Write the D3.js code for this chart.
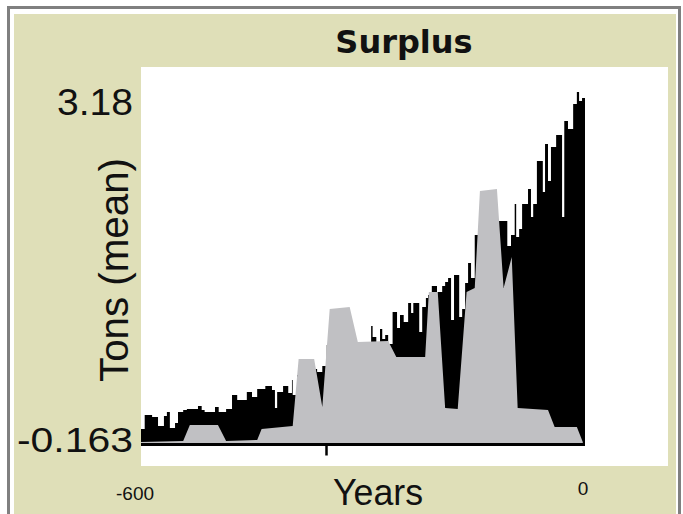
<!DOCTYPE html>
<html>
<head>
<meta charset="utf-8">
<script src="https://cdn.jsdelivr.net/npm/d3@7"></script>
<style>
  html, body { margin: 0; padding: 0; background: #ffffff; }
  svg { display: block; }
</style>
</head>
<body>
<svg id="chart" width="683" height="514"></svg>
<script>
// ---- data ----
const title = "Surplus";
const xLabel = "Years";
const yLabel = "Tons (mean)";
const xDomain = [-600, 0];
const yDomain = [-0.163, 3.18];
const xTickLabels = ["-600", "0"];
const yTickLabels = ["3.18", "-0.163"];
const xTickMarks = [-350];

// black series: step bars (start year, value)
const blackYears = [-600,-595,-585,-577,-569,-565,-561,-554,-550,-543,-538,-523,-518,-514,-500,-495,-485,-477,-470,-457,-450,-443,-432,-423,-419,-416,-408,-401,-396,-395,-389,-365,-362,-355,-349,-289,-287,-282,-277,-274,-270,-266,-260,-254,-250,-245,-239,-235,-232,-224,-220,-215,-212,-207,-200,-193,-189,-185,-181,-177,-170,-166,-162,-158,-154,-149,-119,-112,-105,-100,-95,-93,-89,-85,-77,-73,-70,-65,-57,-54,-50,-46,-39,-31,-28,-23,-16,-11,-8,-4];
const blackValues = [-0.03,0.104,0.085,0.0,0.094,0.132,-0.02,0.027,0.132,0.151,0.161,0.189,0.151,0.132,0.18,0.132,0.161,0.294,0.247,0.323,0.275,0.351,0.38,0.342,0.17,0.323,0.38,0.313,0.437,0.294,0.485,0.542,0.513,0.57,0.77,0.951,0.847,0.78,0.923,0.827,0.866,0.78,1.085,0.932,1.056,0.989,1.17,1.075,1.17,0.894,1.132,1.218,1.247,1.332,1.275,1.332,1.37,1.408,1.008,1.437,1.037,1.113,1.361,1.551,1.408,1.818,1.951,1.951,1.713,1.818,2.113,1.799,1.875,2.113,2.256,1.989,2.113,2.523,2.227,2.685,2.332,2.656,2.77,1.989,2.904,2.827,3.066,3.18,3.094,3.123];

// gray series: line-connected area (year, value)
const grayYears = [-600,-543,-534,-496,-485,-443,-437,-395,-387,-366,-355,-345,-318,-307,-266,-255,-216,-211,-199,-189,-172,-160,-149,-142,-119,-110,-99,-91,-50,-41,-11,-3];
const grayValues = [-0.153,-0.144,0.008,0.008,-0.144,-0.134,-0.03,-0.001,0.637,0.637,0.18,1.113,1.132,0.799,0.808,0.656,0.656,1.275,1.275,0.17,0.161,1.275,1.313,2.237,2.256,1.313,1.608,0.17,0.151,-0.011,-0.011,-0.153];

// ---- drawing ----
const svg = d3.select("#chart");
const W = 683, H = 514;

// outer frame
svg.append("rect").attr("x", 0).attr("y", 0).attr("width", W).attr("height", H).attr("fill", "#ffffff");
svg.append("rect").attr("x", 8.5).attr("y", 7.5).attr("width", 671).attr("height", 520)
  .attr("fill", "none").attr("stroke", "#808080").attr("stroke-width", 3);
svg.append("rect").attr("x", 14).attr("y", 14).attr("width", 662).attr("height", 500).attr("fill", "#dfdfb8");

// plot area
const plot = {left: 141, top: 67, right: 668, bottom: 466};
svg.append("rect").attr("x", plot.left).attr("y", plot.top)
  .attr("width", plot.right - plot.left).attr("height", plot.bottom - plot.top).attr("fill", "#ffffff");

const x = d3.scaleLinear().domain(xDomain).range([141, 585]);
const y = d3.scaleLinear().domain(yDomain).range([443, 92]);

// black step area
const blackData = blackYears.map((yr, i) => ({x: yr, v: blackValues[i]}));
blackData.push({x: xDomain[1], v: blackValues[blackValues.length - 1]});
const blackArea = d3.area().curve(d3.curveStepAfter)
  .x(d => x(d.x)).y0(y(yDomain[0])).y1(d => y(d.v));
svg.append("path").datum(blackData).attr("d", blackArea).attr("fill", "#000000");

// gray area
const grayData = grayYears.map((yr, i) => ({x: yr, v: grayValues[i]}));
const grayArea = d3.area().x(d => x(d.x)).y0(y(yDomain[0])).y1(d => y(d.v));
svg.append("path").datum(grayData).attr("d", grayArea).attr("fill", "#c0c0c3");

// x axis line + tick
const xAxis = d3.axisBottom(x).tickValues(xTickMarks).tickSize(11).tickFormat("");
const gx = svg.append("g").attr("transform", `translate(0, 444.5)`).call(xAxis);
gx.select(".domain").attr("d", `M${x(xDomain[0])},0H${x(xDomain[1])}`)
  .attr("stroke", "#000").attr("stroke-width", 3);
gx.selectAll(".tick line").attr("stroke", "#000").attr("stroke-width", 2.5).attr("y1", 1.5);

// title
svg.append("text").attr("x", 404).attr("y", 53).attr("text-anchor", "middle")
  .attr("font-family", "DejaVu Sans, sans-serif").attr("font-weight", "bold")
  .attr("font-size", 32).attr("fill", "#111").text(title);

// y tick labels
svg.append("text").attr("x", 133).attr("y", 115).attr("text-anchor", "end")
  .attr("font-family", "Liberation Sans, Arial, sans-serif").attr("font-size", 37)
  .attr("textLength", 76).attr("lengthAdjust", "spacingAndGlyphs")
  .attr("fill", "#111").text(yTickLabels[0]);
svg.append("text").attr("x", 133).attr("y", 452).attr("text-anchor", "end")
  .attr("font-family", "Liberation Sans, Arial, sans-serif").attr("font-size", 35)
  .attr("textLength", 116).attr("lengthAdjust", "spacingAndGlyphs")
  .attr("fill", "#111").text(yTickLabels[1]);

// y axis label (rotated)
svg.append("text").attr("transform", "translate(128, 270) rotate(-90)")
  .attr("text-anchor", "middle")
  .attr("font-family", "Liberation Sans, Arial, sans-serif").attr("font-size", 40)
  .attr("textLength", 224).attr("lengthAdjust", "spacingAndGlyphs")
  .attr("fill", "#111").text(yLabel);

// x axis label
svg.append("text").attr("x", 378).attr("y", 505).attr("text-anchor", "middle")
  .attr("font-family", "Liberation Sans, Arial, sans-serif").attr("font-size", 36)
  .attr("textLength", 90).attr("lengthAdjust", "spacingAndGlyphs")
  .attr("fill", "#111").text(xLabel);

// x tick labels
svg.append("text").attr("x", x(xDomain[0]) - 6).attr("y", 500).attr("text-anchor", "middle")
  .attr("font-family", "Liberation Sans, Arial, sans-serif").attr("font-size", 19)
  .attr("fill", "#111").text(xTickLabels[0]);
svg.append("text").attr("x", x(xDomain[1]) - 2).attr("y", 495).attr("text-anchor", "middle")
  .attr("font-family", "Liberation Sans, Arial, sans-serif").attr("font-size", 19)
  .attr("fill", "#111").text(xTickLabels[1]);
</script>
</body>
</html>
